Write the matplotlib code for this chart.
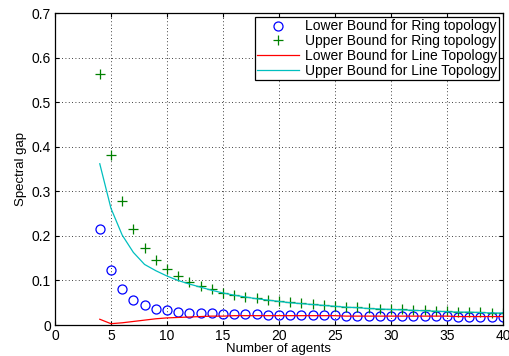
import numpy as np
import matplotlib
matplotlib.use("Agg")
import matplotlib.pyplot as plt

# number of agents
agents = list(range(4, 41))

ring_lower = [0.216, 0.124, 0.080, 0.056, 0.044, 0.037, 0.033, 0.030, 0.028, 0.027,
              0.026, 0.025, 0.025, 0.024, 0.024, 0.023, 0.023, 0.023, 0.022, 0.022,
              0.022, 0.022, 0.021, 0.021, 0.021, 0.021, 0.020, 0.020, 0.020, 0.020,
              0.020, 0.020, 0.019, 0.019, 0.019, 0.019, 0.019]
ring_upper = [0.563, 0.382, 0.279, 0.215, 0.174, 0.146, 0.125, 0.110, 0.097, 0.088,
              0.080, 0.073, 0.068, 0.063, 0.060, 0.057, 0.054, 0.051, 0.049, 0.047,
              0.045, 0.043, 0.041, 0.040, 0.038, 0.037, 0.036, 0.035, 0.034, 0.033,
              0.032, 0.031, 0.030, 0.030, 0.029, 0.028, 0.028]
line_lower = [0.013, 0.003, 0.005, 0.008, 0.011, 0.014, 0.016, 0.017, 0.018, 0.019,
              0.020, 0.020, 0.021, 0.021, 0.021, 0.021, 0.021, 0.021, 0.021, 0.021,
              0.021, 0.021, 0.020, 0.020, 0.020, 0.020, 0.020, 0.020, 0.020, 0.020,
              0.020, 0.020, 0.019, 0.019, 0.019, 0.019, 0.019]
line_upper = [0.362, 0.262, 0.202, 0.163, 0.136, 0.122, 0.110, 0.100, 0.092, 0.085,
              0.078, 0.072, 0.067, 0.063, 0.059, 0.056, 0.053, 0.050, 0.048, 0.046,
              0.044, 0.042, 0.040, 0.039, 0.037, 0.036, 0.035, 0.034, 0.033, 0.032,
              0.031, 0.030, 0.029, 0.029, 0.028, 0.027, 0.027]

plt.rcParams["font.family"] = ["Liberation Sans", "DejaVu Sans"]

fig = plt.figure(figsize=(5.09, 3.56), dpi=100)
ax = fig.add_axes([0.108, 0.087, 0.880, 0.876])

ax.plot(agents, ring_lower, "o", mfc="none", mec="#0000ff", ms=6.5, mew=0.9,
        label="Lower Bound for Ring topology")
ax.plot(agents, ring_upper, "+", color="#008000", ms=6.5, mew=0.9,
        label="Upper Bound for Ring topology")
ax.plot(agents, line_lower, "-", color="#ff0000", lw=0.9,
        label="Lower Bound for Line Topology")
ax.plot(agents, line_upper, "-", color="#00bfbf", lw=0.9,
        label="Upper Bound for Line Topology")

ax.set_xlim(0, 40)
ax.set_ylim(0, 0.7)
ax.set_xticks(np.arange(0, 41, 5))
ax.set_yticks(np.arange(0, 0.71, 0.1))
ax.set_yticklabels(["0", "0.1", "0.2", "0.3", "0.4", "0.5", "0.6", "0.7"])
ax.tick_params(direction="in", top=True, right=True, labelsize=10, length=3, pad=3)
ax.grid(True, linestyle=(0, (1, 3)), color="black", linewidth=0.6)
for s in ax.spines.values():
    s.set_linewidth(0.9)

ax.set_xlabel("Number of agents", fontsize=9.5, labelpad=0)
ax.set_ylabel("Spectral gap", fontsize=9.5, labelpad=3)

leg = ax.legend(loc="upper right", fontsize=10, fancybox=False, framealpha=1,
                edgecolor="black", borderpad=0.15, labelspacing=0.05,
                handlelength=3.0, handletextpad=0.4, borderaxespad=0.3)
leg.get_frame().set_linewidth(0.9)

fig.savefig("out.png", dpi=100)
